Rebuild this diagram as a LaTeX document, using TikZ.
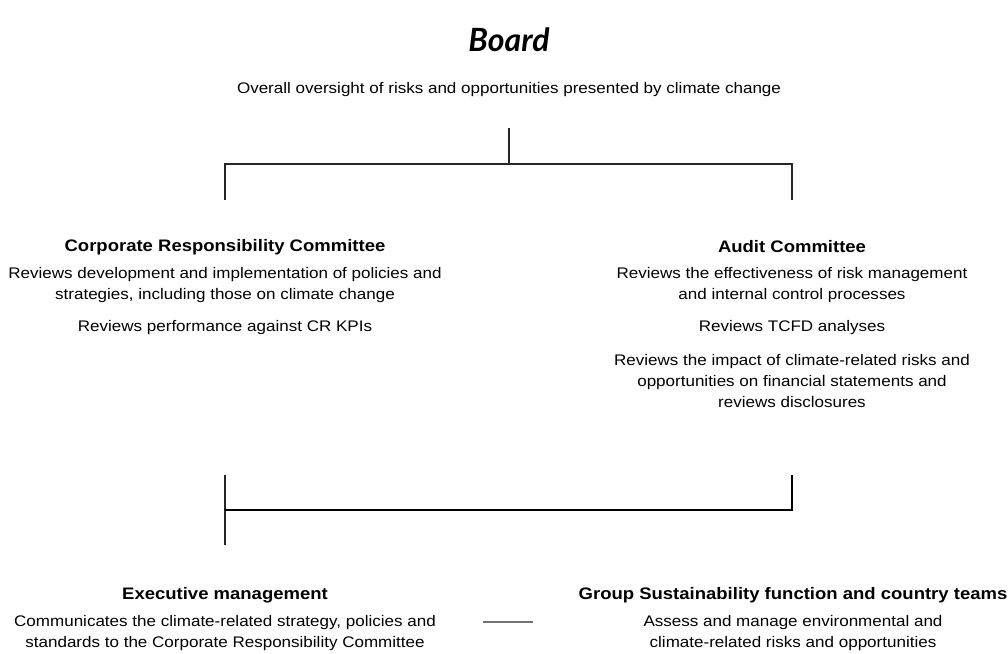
\documentclass[tikz,border=0pt]{standalone}
\usepackage{fontspec}
\setmainfont{Liberation Sans}[FakeStretch=1.11]
\newfontfamily\brushfont{Lato}
\usetikzlibrary{positioning}

\begin{document}
\begin{tikzpicture}[x=0.75pt,y=-0.75pt,
  head/.style={inner sep=0pt,font=\fontsize{12.5}{14}\selectfont\bfseries},
  body/.style={align=center,inner sep=0pt,font=\fontsize{11.5}{15.75}\selectfont},
  link/.style={draw=black!85,line width=1pt}]
\useasboundingbox (0,0) rectangle (1008,654);

% board
\node (board) at (509,40) {\brushfont\bfseries\itshape\fontsize{24}{26}\selectfont Board};
\node[body] (oversight) at (509,90) {Overall oversight of risks and opportunities presented by climate change};

% committees
\node[head] (crc) at (225,247) {Corporate Responsibility Committee};
\node[body] (crc1) at (225,285.5) {Reviews development and implementation of policies and\\strategies, including those on climate change};
\node[body] (crc2) at (225,328) {Reviews performance against CR KPIs};

\node[head] (ac) at (792,247) {Audit Committee};
\node[body] (ac1) at (792,285.5) {Reviews the effectiveness of risk management\\and internal control processes};
\node[body] (ac2) at (792,328) {Reviews TCFD analyses};
\node[body] (ac3) at (792,381.5) {Reviews the impact of climate-related risks and\\opportunities on financial statements and\\reviews disclosures};

% management
\node[head] (exec) at (225,595) {Executive management};
\node[body] (exec1) at (225,633.5) {Communicates the climate-related strategy, policies and\\standards to the Corporate Responsibility Committee};
\node[head] (gs) at (793,595) {Group Sustainability function and country teams};
\node[body] (gs1) at (793,633.5) {Assess and manage environmental and\\climate-related risks and opportunities};

% connectors
\coordinate (top) at (509,128);
\coordinate (crcin) at (225,200);
\coordinate (acin) at (792,200);
\coordinate (crcout) at (225,475);
\coordinate (acout) at (792,475);
\coordinate (merge) at (225,510);
\coordinate (execin) at (225,545);
\coordinate (exR) at (483,622);
\coordinate (gsL) at (533,622);

\draw[link] (top) -- ++(0,36);
\draw[link] (crcin) -- ++(0,-36) -| (acin);
\draw[link] (crcout) -- (execin);
\draw[link,draw=black,line width=1.4pt] (acout) |- (merge);
\draw[draw=black!55,line width=1pt] (exR) -- (gsL);
\end{tikzpicture}
\end{document}
